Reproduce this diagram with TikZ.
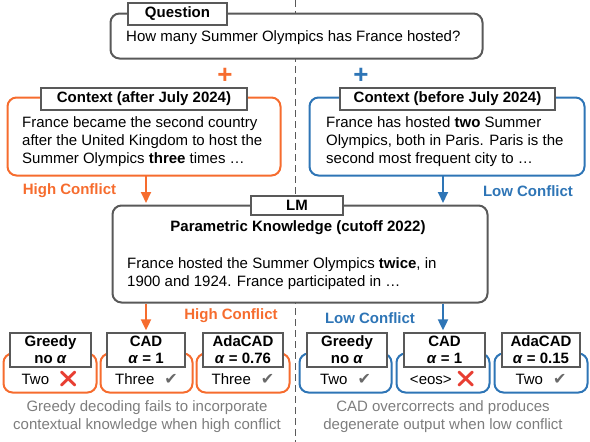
\documentclass[tikz,border=0pt]{standalone}
\usepackage{fontspec}
\setmainfont{Liberation Sans}
\newfontfamily\dejavu{DejaVu Sans}
\newfontfamily\emojifont{Noto Emoji}
\usetikzlibrary{arrows.meta}
\definecolor{hiorange}{RGB}{246,108,46}
\definecolor{loblue}{RGB}{46,117,182}
\definecolor{bordergray}{RGB}{89,89,89}
\definecolor{capgray}{RGB}{125,125,125}
\definecolor{checkgray}{RGB}{105,105,105}
\definecolor{crossred}{RGB}{232,62,50}
\newcommand{\okmark}{{\color{checkgray}\dejavu\fontsize{16}{16}\selectfont ✔}}
\newcommand{\badmark}{{\color{crossred}\emojifont\fontsize{16}{16}\selectfont ❌}}
\tikzset{
  outerbox/.style={draw, line width=2pt, rounded corners=9pt, fill=white, inner sep=0pt},
  labelbox/.style={draw=bordergray, line width=1.3pt, fill=white, inner sep=0pt, align=center,
     font=\bfseries\fontsize{15}{17}\selectfont},
  body/.style={align=left, inner sep=0pt, font=\fontsize{15}{18}\selectfont},
  answer/.style={inner sep=0pt, font=\fontsize{15}{16}\selectfont},
  caption/.style={align=center, inner sep=0pt, text=capgray, font=\fontsize{15}{18}\selectfont},
  conflict/.style={inner sep=0pt, font=\bfseries\fontsize{15}{16}\selectfont},
  flow/.style={line width=2pt, -{Triangle[length=11pt,width=10pt]}, shorten >=2pt},
  divider/.style={draw=bordergray, line width=1pt, dash pattern=on 7pt off 4pt},
  plus/.style={inner sep=0pt, font=\bfseries\fontsize{26}{26}\selectfont}
}
\begin{document}
\begin{tikzpicture}[x=1pt,y=-1pt]
\useasboundingbox (0,0) rectangle (590,442);
\coordinate (dtop) at (295,0);
\coordinate (dbot) at (295,442);
\draw[divider] (dtop) -- (dbot);

% Question
\node[outerbox, draw=bordergray, minimum width=372pt, minimum height=45pt] (q) at (296.5,36) {};
\node[labelbox, minimum width=99pt, minimum height=22pt] (ql) at (177.5,14) {Question};
\node[body, anchor=west] (qt) at (126,38) {How many Summer Olympics has France hosted?};

% plus signs
\node[plus, text=hiorange] (p1) at (225,76) {+};
\node[plus, text=loblue] (p2) at (361,76) {+};

% Left context
\node[outerbox, draw=hiorange, minimum width=273pt, minimum height=78pt] (cl) at (144,136.5) {};
\node[labelbox, minimum width=206pt, minimum height=22pt] (cll) at (144,99) {Context (after July 2024)};
\node[body, anchor=west] (clt) at (22,142) {France became the second country\\after the United Kingdom to host the\\Summer Olympics \textbf{three} times …};

% Right context
\node[outerbox, draw=loblue, minimum width=275pt, minimum height=78pt] (cr) at (447,136.5) {};
\node[labelbox, minimum width=215pt, minimum height=22pt] (crl) at (447.5,99) {Context (before July 2024)};
\node[body, anchor=west] (crt) at (326,142) {France has hosted \textbf{two} Summer\\Olympics, both in Paris. Paris is the\\second most frequent city to …};

% LM
\node[outerbox, draw=bordergray, minimum width=375pt, minimum height=97pt] (lm) at (300,254) {};
\node[labelbox, minimum width=92pt, minimum height=19pt] (lml) at (297,205.5) {LM};
\node[inner sep=0pt, font=\bfseries\fontsize{15}{16}\selectfont] (pk) at (298,228) {Parametric Knowledge (cutoff 2022)};
\node[body, anchor=west] (lmt) at (127,274) {France hosted the Summer Olympics \textbf{twice}, in\\1900 and 1924. France participated in …};

% top conflict labels and arrows
\node[conflict, text=hiorange] (hc1) at (69.5,191) {High Conflict};
\node[conflict, text=loblue] (lc1) at (528,191) {Low Conflict};
\coordinate (a1s) at (146,176);
\coordinate (a1e) at (146,205);
\coordinate (a2s) at (443,176);
\coordinate (a2e) at (443,205);
\draw[flow, hiorange] (a1s) -- (a1e);
\draw[flow, loblue] (a2s) -- (a2e);

% bottom conflict labels and arrows
\node[conflict, text=hiorange] (hc2) at (231,316) {High Conflict};
\node[conflict, text=loblue] (lc2) at (370,318) {Low Conflict};

% bottom boxes left
\node[outerbox, draw=hiorange, minimum width=93pt, minimum height=39pt] (g1) at (50,373) {};
\node[outerbox, draw=hiorange, minimum width=92pt, minimum height=39pt] (c1) at (146.5,373) {};
\node[outerbox, draw=hiorange, minimum width=93pt, minimum height=39pt] (d1) at (243,373) {};
\node[labelbox, minimum width=81pt, minimum height=34pt] (g1l) at (50.5,350) {Greedy\\no \textit{α}};
\node[labelbox, minimum width=78pt, minimum height=34pt] (c1l) at (146,350) {CAD\\\textit{α} = 1};
\node[labelbox, minimum width=80pt, minimum height=34pt] (d1l) at (243,350) {AdaCAD\\\textit{α} = 0.76};
\node[answer] (g1a) at (50,379) {Two\hspace{9pt}\badmark};
\node[answer] (c1a) at (146.5,379) {Three\hspace{10pt}\okmark};
\node[answer] (d1a) at (243,379) {Three\hspace{10pt}\okmark};

% bottom boxes right
\node[outerbox, draw=loblue, minimum width=92pt, minimum height=39pt] (g2) at (345.5,373) {};
\node[outerbox, draw=loblue, minimum width=93pt, minimum height=39pt] (c2) at (443,373) {};
\node[outerbox, draw=loblue, minimum width=93pt, minimum height=39pt] (d2) at (541,373) {};
\node[labelbox, minimum width=80pt, minimum height=34pt] (g2l) at (347,350) {Greedy\\no \textit{α}};
\node[labelbox, minimum width=81pt, minimum height=34pt] (c2l) at (444.5,350) {CAD\\\textit{α} = 1};
\node[labelbox, minimum width=78pt, minimum height=34pt] (d2l) at (541,350) {AdaCAD\\\textit{α} = 0.15};
\node[answer] (g2a) at (345.5,379) {Two\hspace{10pt}\okmark};
\node[answer] (c2a) at (443,379) {<eos>\hspace{4pt}\badmark};
\node[answer] (d2a) at (541,379) {Two\hspace{10pt}\okmark};

\draw[flow, hiorange] (lm.south -| c1l) -- (c1l.north);
\draw[flow, loblue] (lm.south -| a2s) -- (a2s |- c2l.north);

% captions
\node[caption] (cap1) at (147,417) {Greedy decoding fails to incorporate\\contextual knowledge when high conflict};
\node[caption] (cap2) at (443,417) {CAD overcorrects and produces\\degenerate output when low conflict};
\end{tikzpicture}
\end{document}
